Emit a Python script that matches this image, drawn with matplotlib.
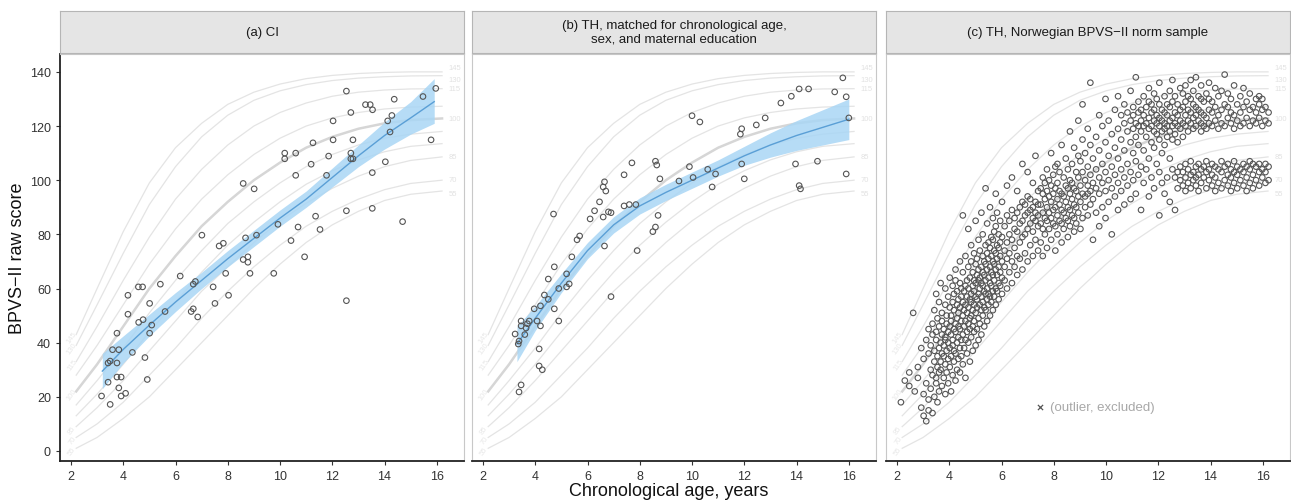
import numpy as np
import matplotlib.pyplot as plt

plt.rcParams["font.family"] = ["Liberation Sans", "DejaVu Sans"]

# Reference curves (standard-score lines) at these ages
curve_ages = [2.2, 3, 4, 5, 6, 7, 8, 9, 10, 11, 12, 13, 14, 15, 16.2]
curve_145 = [43, 60, 81, 99, 112, 121, 128, 132.5, 135.5, 137.5, 138.7, 139.4, 139.8, 140, 140]
curve_130 = [39, 54, 73, 91, 105, 116, 124, 129.5, 133, 135.3, 136.8, 137.7, 138.2, 138.5, 138.6]
curve_115 = [33, 46, 63, 79, 93, 104, 113, 120, 125, 128.5, 131, 132.5, 133.3, 133.7, 133.8]
curve_108 = [28, 39, 54, 69, 82, 93, 102, 109.5, 115.5, 120, 123, 125, 126.3, 127, 127.3]
curve_100 = [22, 32, 46, 60, 72, 83, 92, 100, 106.5, 112, 116, 119, 121, 122.2, 122.8]
curve_93 = [17, 26, 38, 51, 63, 74, 84, 92, 99, 105, 109.5, 113, 115.5, 117, 118]
curve_89 = [13, 21, 32, 44, 55, 66, 76, 84.5, 92, 98.5, 103.5, 107.5, 110.5, 112.5, 113.5]
curve_85 = [9, 16, 26, 37, 48, 59, 68, 77, 85, 91.5, 97, 101.5, 105, 107.3, 108.6]
curve_70 = [5, 10, 18, 28, 38, 49, 59, 68, 76, 83, 88.5, 93, 96.5, 98.8, 100]
curve_55 = [1, 5, 12, 20, 30, 40, 50, 60, 69, 77, 83.5, 88.5, 92.5, 94.8, 96]

curves = [curve_145, curve_130, curve_115, curve_108, curve_100,
          curve_93, curve_89, curve_85, curve_70, curve_55]
curve_names = ["145", "130", "115", "", "100", "", "", "85", "70", "55"]
label_nudge = [1.6, -1.6, 0, 0, 0, 0, 0, 0, 0.4, -0.8]

# (a) CI children
age_a = [12.54, 13.27, 13.45, 13.54, 14.37, 12.71, 12.03, 14.12, 14.28, 15.47,
         15.96, 14.21, 11.26, 12.03, 12.79, 15.78, 10.18, 10.18, 10.60, 11.86,
         12.71, 12.71, 12.79, 11.19, 14.03, 13.53, 10.60, 11.78, 8.59, 9.01,
         12.54, 13.53, 14.69, 11.36, 9.92, 10.69, 11.53, 10.42, 10.94, 7.01,
         7.67, 7.83, 8.68, 9.10, 8.59, 8.77, 8.77, 7.92, 8.85, 9.76,
         12.54, 6.18, 5.42, 4.58, 4.74, 4.18, 5.01, 6.68, 6.76, 7.44,
         8.03, 7.51, 5.60, 6.68, 6.60, 6.85, 4.18, 4.59, 4.76, 5.09,
         5.01, 3.76, 3.59, 3.83, 4.35, 3.42, 3.50, 3.76, 4.83, 3.42,
         3.76, 3.92, 3.83, 4.92, 3.17, 3.92, 4.09, 3.50]
score_a = [132.9, 127.9, 127.9, 126.0, 129.9, 125.0, 121.9, 121.9, 123.9, 130.9,
           133.9, 117.8, 113.8, 114.9, 114.9, 114.9, 110.0, 107.9, 110.0, 108.9,
           110.0, 107.9, 107.9, 105.9, 106.8, 102.8, 101.8, 101.8, 98.8, 96.8,
           88.7, 89.6, 84.7, 86.7, 83.7, 82.7, 81.8, 77.7, 71.7, 79.7,
           75.7, 76.7, 78.7, 79.7, 70.7, 71.7, 69.7, 65.6, 65.6, 65.6,
           55.5, 64.6, 61.6, 60.6, 60.6, 57.5, 54.5, 61.6, 62.6, 60.6,
           57.5, 54.5, 51.5, 52.5, 51.5, 49.5, 50.5, 47.5, 48.5, 46.5,
           43.5, 43.5, 37.4, 37.4, 36.4, 32.5, 33.2, 32.5, 34.5, 25.4,
           27.3, 27.3, 23.3, 26.4, 20.3, 20.3, 21.3, 17.2]
fit_age_a = [3.2, 4, 5, 6, 7, 8, 9, 10, 11, 12, 13, 14, 15, 15.9]
fit_a = [29.5, 37.5, 46.5, 55, 63, 71, 78.5, 86, 93, 101, 109, 116.5, 123, 129]
fit_lo_a = [23, 32.5, 42.5, 51.5, 60, 68, 75.5, 83, 90, 97.5, 105, 111.5, 117, 121]
fit_hi_a = [36, 42.5, 50.5, 58.5, 66, 74, 81.5, 89, 96, 104.5, 113, 121.5, 129, 137.5]

# (b) TH matched group
age_b = [15.77, 15.46, 15.9, 14.1, 13.8, 14.46, 13.4, 12.8, 12.46, 11.9,
         11.85, 10.0, 10.3, 16.0, 15.9, 14.8, 13.96, 14.1, 14.15, 11.9,
         12.0, 10.6, 10.9, 10.77, 9.9, 10.04, 9.5, 8.77, 8.6, 8.65,
         7.7, 7.4, 8.7, 8.5, 8.6, 7.85, 7.6, 7.4, 6.9, 6.46,
         6.6, 6.65, 6.7, 6.27, 6.1, 6.6, 6.8, 7.9, 6.65, 6.9,
         5.6, 5.7, 5.2, 5.2, 5.3, 4.9, 5.4, 4.73, 4.5, 4.7,
         4.5, 4.35, 4.2, 4.73, 4.9, 3.77, 3.96, 3.38, 3.46, 3.7,
         3.46, 3.23, 3.35, 3.6, 3.65, 4.07, 4.2, 4.15, 4.27, 3.46,
         3.38, 4.15]
score_b = [137.8, 132.6, 130.8, 133.7, 131.0, 133.7, 128.5, 123.0, 120.4, 119.0,
           117.0, 123.8, 121.5, 123.0, 102.3, 107.0, 106.0, 98.0, 96.8, 106.0,
           100.5, 104.0, 102.3, 97.5, 105.0, 101.0, 99.7, 100.5, 107.0, 105.6,
           106.4, 102.0, 87.0, 81.0, 82.7, 91.0, 91.0, 90.5, 88.0, 92.0,
           97.5, 99.4, 96.0, 88.7, 85.7, 86.4, 88.3, 74.0, 75.7, 57.0,
           78.0, 79.4, 65.4, 60.6, 61.7, 60.0, 71.7, 68.0, 63.5, 87.5,
           56.0, 57.6, 53.6, 52.5, 48.0, 48.0, 52.5, 40.6, 48.0, 47.0,
           46.2, 43.2, 39.5, 43.0, 45.4, 48.0, 46.2, 31.4, 30.0, 24.4,
           21.8, 37.7]
fit_age_b = [3.3, 4, 5, 6, 7, 8, 9, 10, 11, 12, 13, 14, 15, 16]
fit_b = [39.5, 49, 62, 74, 83.5, 90.5, 95.5, 100, 104.5, 109, 113, 116.5, 119.5, 122.5]
fit_lo_b = [33, 44.5, 58.5, 71, 80.5, 87.5, 92.5, 97, 101.5, 105.5, 108.5, 111, 113, 115]
fit_hi_b = [46, 53.5, 65.5, 77, 86.5, 93.5, 98.5, 103, 107.5, 112.5, 117.5, 122, 126, 130]

# (c) Norwegian norm sample: (age, scores) groups
norm_rows = [
    (2.15, [18]), (2.30, [26]), (2.47, [24, 29]), (2.62, [51]), (2.68, [22]),
    (2.80, [27, 31]), (2.93, [16, 38]), (3.02, [13, 21, 34]), (3.12, [11, 25, 41]),
    (3.21, [15, 19, 36, 45]), (3.29, [23, 30, 39]),
    (3.36, [14, 28, 43, 47]), (3.43, [20, 33, 37, 52]), (3.50, [25, 27, 41, 44, 58]),
    (3.55, [18, 31, 35, 49]), (3.61, [22, 29, 38, 46, 55]), (3.67, [30, 33, 40, 62]),
    (3.72, [24, 36, 43, 48, 51]), (3.79, [27, 35, 39, 45]), (3.85, [21, 32, 41, 42, 54, 60]),
    (3.90, [29, 37, 47, 50]), (3.96, [25, 34, 40, 44, 57]), (4.02, [31, 38, 46, 53, 64]),
    (4.07, [22, 35, 43, 48, 50]), (4.13, [28, 39, 41, 55, 61]), (4.18, [33, 37, 45, 52, 58]),
    (4.24, [26, 36, 44, 47, 63, 67]), (4.30, [30, 40, 49, 54, 59]), (4.35, [34, 42, 46, 51, 56]),
    (4.41, [29, 38, 45, 53, 62, 70]), (4.46, [35, 41, 48, 57, 60]),
    (4.52, [32, 43, 50, 55, 66, 87]), (4.57, [38, 46, 52, 59]), (4.62, [27, 41, 48, 54, 61, 72]),
    (4.68, [36, 44, 51, 57, 63]), (4.73, [40, 47, 53, 60, 68, 82]), (4.79, [33, 45, 49, 56, 64]),
    (4.84, [42, 50, 55, 58, 70, 76]), (4.90, [37, 46, 52, 61, 66]), (4.95, [44, 48, 54, 59, 63, 73]),
    (5.01, [39, 51, 57, 62, 69, 85]), (5.06, [45, 53, 56, 65, 71]), (5.12, [41, 49, 58, 63, 67, 78]),
    (5.17, [47, 54, 60, 64, 74]), (5.23, [43, 52, 57, 62, 68, 88]), (5.28, [50, 55, 61, 66, 72, 80]),
    (5.34, [46, 53, 59, 65, 70]), (5.39, [52, 58, 63, 69, 76, 97]), (5.45, [48, 56, 60, 67, 73, 84]),
    (5.50, [54, 58, 64, 71, 77]), (5.56, [50, 57, 62, 68, 75, 90]), (5.61, [55, 61, 66, 72, 79]),
    (5.67, [52, 59, 65, 70, 78, 86]), (5.72, [57, 63, 69, 74, 81]), (5.78, [54, 60, 67, 73, 83, 95]),
    (5.83, [59, 65, 71, 76, 88]), (5.89, [56, 62, 68, 75, 80]), (5.95, [61, 66, 72, 77, 85]),
    (6.02, [58, 64, 70, 79, 92]), (6.12, [63, 68, 74, 83]), (6.21, [60, 71, 77, 87, 98]),
    (6.30, [66, 73, 80, 85]), (6.40, [62, 70, 78, 89, 101]), (6.50, [68, 75, 82, 86]),
    (6.60, [65, 72, 81, 88, 96]), (6.70, [71, 77, 84, 90]), (6.80, [67, 79, 85, 92, 106]),
    (6.90, [73, 80, 87, 91]), (7.00, [70, 82, 88, 94, 103]), (7.10, [76, 84, 89, 93]),
    (7.20, [72, 81, 86, 90, 99]), (7.30, [78, 85, 88, 92, 109]), (7.40, [74, 83, 87, 91, 96]),
    (7.50, [77, 84, 91, 97]), (7.58, [72, 82, 88, 95, 101]), (7.66, [80, 86, 93, 99]),
    (7.74, [75, 85, 90, 96, 104]), (7.82, [82, 88, 94, 100]), (7.90, [78, 86, 92, 98, 110]),
    (7.98, [84, 89, 95, 102]), (8.06, [74, 83, 90, 97, 105]), (8.14, [80, 87, 93, 99, 106]),
    (8.22, [85, 91, 96, 103]), (8.30, [77, 84, 89, 95, 113]), (8.38, [82, 88, 94, 101]),
    (8.46, [86, 92, 98, 108]), (8.54, [79, 85, 90, 97, 104]), (8.62, [83, 89, 95, 100, 118]),
    (8.70, [87, 93, 99, 106]), (8.78, [81, 86, 91, 97, 112]), (8.86, [84, 90, 96, 103]),
    (8.94, [88, 94, 101, 109, 122]), (9.02, [82, 92, 98, 107]), (9.10, [86, 95, 103, 115, 128]),
    (9.20, [90, 94, 100, 110]), (9.30, [87, 95, 98, 105, 119]), (9.40, [91, 96, 102, 113, 136]),
    (9.50, [78, 93, 99, 108]), (9.62, [88, 97, 104, 116]), (9.74, [83, 95, 101, 111, 124]),
    (9.86, [90, 99, 106, 120]), (9.98, [86, 96, 103, 114, 130]), (10.10, [92, 100, 109, 122]),
    (10.22, [80, 97, 105, 117]), (10.34, [94, 102, 112, 126]), (10.46, [89, 99, 108, 119, 131]),
    (10.58, [96, 104, 115, 124]), (10.70, [91, 101, 111, 121, 128]), (10.82, [98, 106, 118, 125]),
    (10.94, [93, 103, 114, 122, 133]),
    (11.04, [100, 110, 119, 124, 127]), (11.14, [95, 107, 116, 121, 138]), (11.24, [102, 113, 120, 125, 129]),
    (11.34, [89, 105, 118, 122, 126]), (11.44, [99, 111, 120, 124, 131]), (11.54, [104, 116, 121, 127]),
    (11.64, [94, 108, 119, 123, 129, 134]), (11.74, [101, 114, 120, 125, 128]), (11.84, [97, 112, 118, 122, 126, 132]),
    (11.94, [106, 117, 121, 124, 130]), (12.04, [87, 103, 115, 120, 123, 128, 136]), (12.14, [99, 110, 118, 122, 126]),
    (12.24, [95, 113, 119, 121, 125, 131]), (12.34, [101, 116, 120, 124, 128]), (12.44, [92, 108, 118, 122, 127, 133]),
    (12.54, [104, 115, 120, 123, 129, 137]), (12.64, [89, 101, 117, 121, 125, 131]), (12.74, [97, 103, 114, 120, 124, 128]),
    (12.84, [100, 105, 119, 122, 126, 134]), (12.94, [98, 103, 116, 121, 127, 132]), (13.04, [96, 101, 106, 120, 124, 129, 135]),
    (13.14, [99, 104, 118, 122, 126, 131]), (13.24, [97, 102, 107, 121, 125, 130, 137]), (13.34, [100, 103, 119, 123, 128, 133]),
    (13.44, [98, 101, 105, 120, 124, 127, 138]), (13.54, [96, 102, 106, 122, 126, 131]), (13.64, [99, 104, 118, 121, 125, 130, 135]),
    (13.74, [101, 105, 120, 124, 129]), (13.84, [97, 103, 107, 119, 123, 132]), (13.94, [100, 104, 121, 126, 130, 136]),
    (14.06, [98, 102, 106, 120, 125, 129]), (14.18, [96, 101, 105, 122, 127, 134]), (14.30, [99, 104, 119, 124, 131]),
    (14.42, [97, 103, 107, 121, 126, 133]), (14.54, [100, 105, 120, 128, 139]), (14.66, [98, 102, 106, 123, 127, 132]),
    (14.78, [96, 101, 104, 121, 125, 130]), (14.90, [99, 103, 107, 119, 124, 135]), (15.02, [97, 102, 105, 122, 128]),
    (15.14, [100, 104, 120, 125, 131]), (15.26, [98, 103, 106, 121, 127, 134]), (15.38, [96, 101, 105, 123, 129]),
    (15.50, [99, 104, 107, 120, 126, 132]), (15.62, [97, 102, 106, 122, 127]), (15.74, [100, 105, 121, 125, 130]),
    (15.86, [98, 103, 106, 123, 128, 131]), (15.98, [101, 104, 120, 126, 130]), (16.10, [99, 103, 106, 122, 127]),
    (16.22, [100, 105, 121, 125]),
]
age_c = [a for a, vals in norm_rows for v in vals]
score_c = [v for a, vals in norm_rows for v in vals]
outlier = (7.46, 16.3)

titles = ["(a) CI",
          "(b) TH, matched for chronological age,\nsex, and maternal education",
          "(c) TH, Norwegian BPVS\u2212II norm sample"]

W, H = 1291, 502
fig = plt.figure(figsize=(W / 100, H / 100), dpi=100)
lefts = [60, 472, 886]
width = 404


def draw_curves(ax):
    for vals, name, dy in zip(curves, curve_names, label_nudge):
        thick = name == "100"
        ax.plot(curve_ages, vals, color="#d6d6d6" if thick else "#e4e4e4",
                lw=1.8 if thick else 0.9, zorder=1)
        if name:
            ax.text(16.45, vals[-1] + dy, name, color="#e2e2e2", fontsize=5.5,
                    va="center", ha="left", zorder=1)
            ax.text(2.05, vals[0] - 1, name, color="#e8e8e8", fontsize=5.5,
                    va="center", ha="center", rotation=55, zorder=1)


def style_axes(ax, first):
    ax.set_xlim(1.58, 17.04)
    ax.set_ylim(-3.7, 146.6)
    ax.set_xticks(range(2, 17, 2))
    ax.set_yticks(range(0, 141, 20))
    for side in ["top", "right"]:
        ax.spines[side].set_color("#c8c8c8")
        ax.spines[side].set_linewidth(0.8)
    ax.spines["bottom"].set_color("#222222")
    ax.spines["bottom"].set_linewidth(1.3)
    if first:
        ax.spines["left"].set_color("#222222")
        ax.spines["left"].set_linewidth(1.3)
    else:
        ax.spines["left"].set_color("#c8c8c8")
        ax.spines["left"].set_linewidth(0.8)
        ax.tick_params(axis="y", left=False, labelleft=False)
    ax.tick_params(axis="both", colors="#333333", labelsize=9, length=3,
                   width=0.8, labelcolor="#333333")


def draw_points(ax, ages, scores):
    ax.scatter(ages, scores, s=16, facecolors="none", edgecolors="#555555",
               linewidths=0.8, zorder=4)


def draw_fit(ax, fx, fy, lo, hi):
    ax.fill_between(fx, lo, hi, color="#a9d6f5", alpha=0.85, lw=0, zorder=2)
    ax.plot(fx, fy, color="#5a9fd6", lw=1.0, zorder=3)


axes = []
for i, left in enumerate(lefts):
    ax = fig.add_axes([left / W, 40 / H, width / W, 407 / H])
    axes.append(ax)
    draw_curves(ax)
    style_axes(ax, i == 0)
    strip = fig.add_axes([left / W, 448 / H, width / W, 42 / H])
    strip.set_facecolor("#e5e5e5")
    strip.set_xticks([])
    strip.set_yticks([])
    for sp in strip.spines.values():
        sp.set_color("#b5b5b5")
        sp.set_linewidth(0.8)
    strip.text(0.5, 0.5, titles[i], ha="center", va="center", fontsize=9.5,
               color="#1a1a1a", transform=strip.transAxes, linespacing=1.15)

draw_fit(axes[0], fit_age_a, fit_a, fit_lo_a, fit_hi_a)
draw_points(axes[0], age_a, score_a)
draw_fit(axes[1], fit_age_b, fit_b, fit_lo_b, fit_hi_b)
draw_points(axes[1], age_b, score_b)
draw_points(axes[2], age_c, score_c)
axes[2].scatter([outlier[0]], [outlier[1]], marker="x", s=14,
                color="#555555", linewidths=0.9, zorder=4)
axes[2].text(outlier[0] + 0.4, outlier[1], "(outlier, excluded)",
             color="#a8a8a8", fontsize=9.5, va="center", ha="left")

fig.text(18 / W, 0.5 - 7 / H, "BPVS\u2212II raw score", rotation=90,
         fontsize=13, ha="center", va="center", color="#111111")
fig.text(669 / W, 10 / H, "Chronological age, years", fontsize=13,
         ha="center", va="center", color="#111111")

fig.savefig("out.png", dpi=100)
